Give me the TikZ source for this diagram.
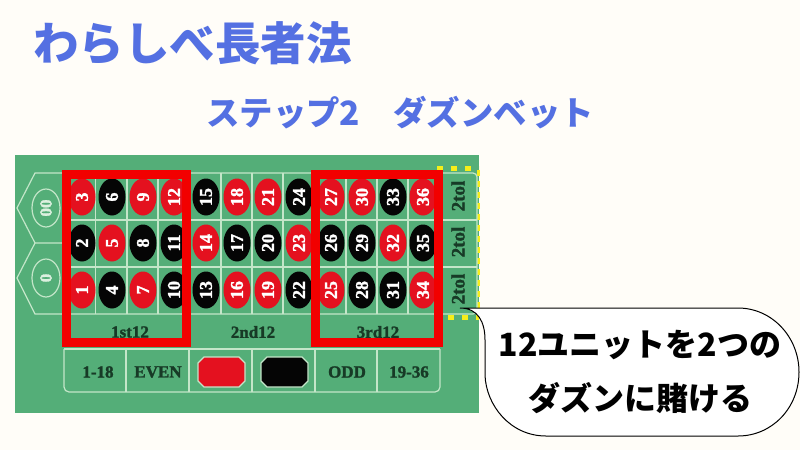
\documentclass[tikz,border=0pt]{standalone}
\usepackage{fontspec}
\setmainfont{Liberation Serif}
\newfontfamily\cjk{Noto Sans CJK JP}[BoldFont={Noto Sans CJK JP Black}]
\newfontfamily\fatserif{Liberation Serif Bold}[FakeBold=1.5]
\usetikzlibrary{shapes.geometric}
\definecolor{bgc}{HTML}{FFFDF8}
\definecolor{felt}{HTML}{54AE78}
\definecolor{feltline}{HTML}{C4E6C9}
\definecolor{titleblue}{HTML}{5470E2}
\definecolor{chipred}{HTML}{E4111F}
\definecolor{boxred}{HTML}{F20000}
\definecolor{chipblack}{HTML}{050505}
\definecolor{inkdark}{HTML}{173A26}
\definecolor{dotyellow}{HTML}{F6EE1A}
\tikzset{
  x=1pt,y=-1pt,
  gridline/.style={draw=feltline,line width=1.2pt},
  chiplabel/.style={text=white,font=\fatserif\fontsize{18}{18}\selectfont,rotate=90,inner sep=0pt},
  darklabel/.style={text=inkdark,font=\fatserif\fontsize{17}{17}\selectfont,inner sep=0pt},
  sidelabel/.style={darklabel,rotate=90,font=\fatserif\fontsize{19}{19}\selectfont},
  zerolabel/.style={text=feltline!60!white,font=\fatserif\fontsize{17}{17}\selectfont,rotate=90,inner sep=0pt},
  heading/.style={text=titleblue,inner sep=0pt},
  dozenbox/.style={draw=boxred,line width=9pt,fill=none},
  yellowdots/.style={draw=dotyellow,line width=5pt,dash pattern=on 6pt off 8pt},
  calloutshape/.style={draw=black,line width=1pt,fill=white},
  callouttext/.style={text=black,inner sep=0pt}
}
\newcommand{\chip}[4]{%
  \fill[#4] (#1,#2) ellipse [x radius=13.5,y radius=18.5];
  \node[chiplabel] (n#3) at (#1,#2) {#3};}
\begin{document}
\begin{tikzpicture}
\useasboundingbox (0,0) rectangle (800,450);
\fill[bgc] (0,0) rectangle (800,450);
% table
\fill[felt] (15,155) rectangle (479,413);
% yellow dots
\draw[yellowdots] (437,168) -- (479,168);
\draw[yellowdots,line width=3pt,dash pattern=on 6pt off 5pt] (478,170) -- (478,314);
\draw[yellowdots] (448,317) -- (479,317);
% number grid
\draw[gridline,rounded corners=4pt] (64,173) -- (477,173) -- (477,314) -- (64,314);
\foreach \y in {220,267} \draw[gridline] (64,\y) -- (477,\y);
\foreach \x in {64,95.5,127,158,189,221,252,283,315,346,377,408,442} \draw[gridline] (\x,173) -- (\x,314);
% zero wings
\draw[gridline] (64,173) -- (35,173) -- (17,208) -- (35,243) -- (64,243);
\draw[gridline] (35,243) -- (17,278) -- (35,314) -- (64,314);
\draw[gridline] (46,208) ellipse [x radius=14,y radius=19];
\draw[gridline] (46,278) ellipse [x radius=14,y radius=19];
\node[zerolabel] (zz) at (46,208) {00};
\node[zerolabel] (z) at (46,278) {0};
% chips
\chip{82}{197}{3}{chipred}\chip{82}{243}{2}{chipblack}\chip{82}{290}{1}{chipred}
\chip{112}{197}{6}{chipblack}\chip{112}{243}{5}{chipred}\chip{112}{290}{4}{chipblack}
\chip{143}{197}{9}{chipred}\chip{143}{243}{8}{chipblack}\chip{143}{290}{7}{chipred}
\chip{174}{197}{12}{chipred}\chip{174}{243}{11}{chipblack}\chip{174}{290}{10}{chipblack}
\chip{206}{197}{15}{chipblack}\chip{206}{243}{14}{chipred}\chip{206}{290}{13}{chipblack}
\chip{237}{197}{18}{chipred}\chip{237}{243}{17}{chipblack}\chip{237}{290}{16}{chipred}
\chip{268}{197}{21}{chipred}\chip{268}{243}{20}{chipblack}\chip{268}{290}{19}{chipred}
\chip{299}{197}{24}{chipblack}\chip{299}{243}{23}{chipred}\chip{299}{290}{22}{chipblack}
\chip{331}{197}{27}{chipred}\chip{331}{243}{26}{chipblack}\chip{331}{290}{25}{chipred}
\chip{362}{197}{30}{chipred}\chip{362}{243}{29}{chipblack}\chip{362}{290}{28}{chipblack}
\chip{393}{197}{33}{chipblack}\chip{393}{243}{32}{chipred}\chip{393}{290}{31}{chipblack}
\chip{423}{197}{36}{chipred}\chip{423}{243}{35}{chipblack}\chip{423}{290}{34}{chipred}
% 2 to 1
\node[sidelabel] (c3) at (458,196) {2tol};
\node[sidelabel] (c2) at (458,242) {2tol};
\node[sidelabel] (c1) at (458,289) {2tol};
% dozens
\node[darklabel] (d1) at (130,332) {1st12};
\node[darklabel] (d2) at (253,332) {2nd12};
\node[darklabel] (d3) at (378,332) {3rd12};
% outside bets
\draw[gridline,rounded corners=5pt] (64,349) -- (64,392) -- (440,392) -- (440,349);
\draw[gridline] (64,349) -- (440,349);
\foreach \x in {126,189,252,315,377} \draw[gridline] (\x,349) -- (\x,392);
\node[darklabel] (b1) at (98,372) {1-18};
\node[darklabel] (b2) at (158,372) {EVEN};
\node[darklabel] (b3) at (347,372) {ODD};
\node[darklabel] (b4) at (409,372) {19-36};
\draw[gridline,fill=chipred] (204,357) -- (239,357) -- (245,363) -- (245,381) -- (239,387) -- (204,387) -- (198,381) -- (198,363) -- cycle;
\draw[gridline,fill=chipblack] (267,357) -- (302,357) -- (308,363) -- (308,381) -- (302,387) -- (267,387) -- (261,381) -- (261,363) -- cycle;
% red boxes
\draw[dozenbox] (66.5,174.5) rectangle (186.5,342.5);
\draw[dozenbox] (315.5,174.5) rectangle (438.5,342.5);
% callout
\draw[calloutshape] (460,308) -- (738,308) .. controls (772,308) and (799,337) .. (799,372) .. controls (799,408) and (772,436) .. (738,436) -- (546,436) .. controls (510,436) and (486,405) .. (485,375) -- (485,340) .. controls (485,322) and (478,308) .. (460,308) -- cycle;
\node[callouttext,font=\cjk\bfseries\fontsize{32}{32}\selectfont] (co1) at (640,345) {12ユニットを2つの};
\node[callouttext,font=\cjk\bfseries\fontsize{32}{32}\selectfont] (co2) at (640,398) {ダズンに賭ける};
% headings
\node[heading,anchor=west,font=\cjk\bfseries\fontsize{45.5}{46}\selectfont] (title) at (33,43) {わらしべ長者法};
\node[heading,anchor=west,font=\cjk\bfseries\fontsize{33.4}{34}\selectfont] (step) at (206,113) {ステップ2　ダズンベット};
\end{tikzpicture}
\end{document}
